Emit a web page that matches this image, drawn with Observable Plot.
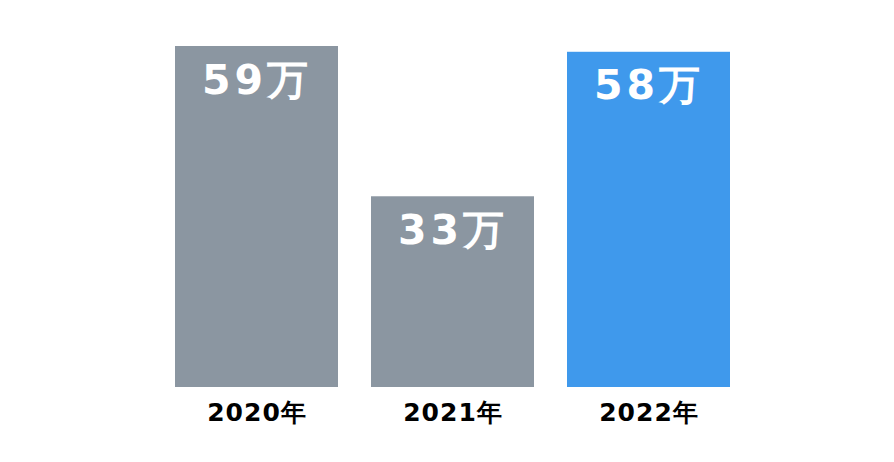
<!DOCTYPE html>
<html>
<head>
<meta charset="utf-8">
<script src="https://cdn.jsdelivr.net/npm/d3@7"></script>
<script src="https://cdn.jsdelivr.net/npm/@observablehq/plot@0.6"></script>
<style>
  html, body { margin: 0; padding: 0; background: #fff; }
  #chart svg { display: block; }
</style>
</head>
<body>
<div id="chart"></div>
<script>
const years = ["2020年", "2021年", "2022年"];
const values = [59, 33, 58];
const valueLabels = ["59万", "33万", "58万"];
const barColors = ["#8b96a1", "#8b96a1", "#3f99ec"];

const data = years.map((y, i) => ({year: y, value: values[i], label: valueLabels[i], color: barColors[i]}));

const chart = Plot.plot({
  width: 894,
  height: 462,
  marginLeft: 141,
  marginRight: 130,
  marginTop: 46,
  marginBottom: 75,
  style: {background: "#fff"},
  x: {domain: years, padding: 0.17, label: null},
  y: {domain: [0, 59], axis: null},
  marks: [
    Plot.barY(data, {x: "year", y: "value", fill: "color"}),
    Plot.text(data, {
      x: "year", y: "value", text: "label", dy: 34,
      fill: "#fff", fontSize: 41, fontWeight: "bold",
      fontFamily: "DejaVu Sans"
    }),
    Plot.axisX({
      tickSize: 0, tickPadding: 16, fontSize: 25, fontWeight: "bold",
      fontFamily: "DejaVu Sans", color: "#000", label: null
    })
  ]
});
chart.querySelectorAll('[aria-label="text"] text').forEach(t => { t.style.letterSpacing = "4px"; });
chart.querySelectorAll('[aria-label="x-axis tick label"] text').forEach(t => { t.setAttribute("fill", "#000"); t.style.fill = "#000"; t.style.letterSpacing = "1px"; });
document.getElementById("chart").appendChild(chart);
</script>
</body>
</html>
